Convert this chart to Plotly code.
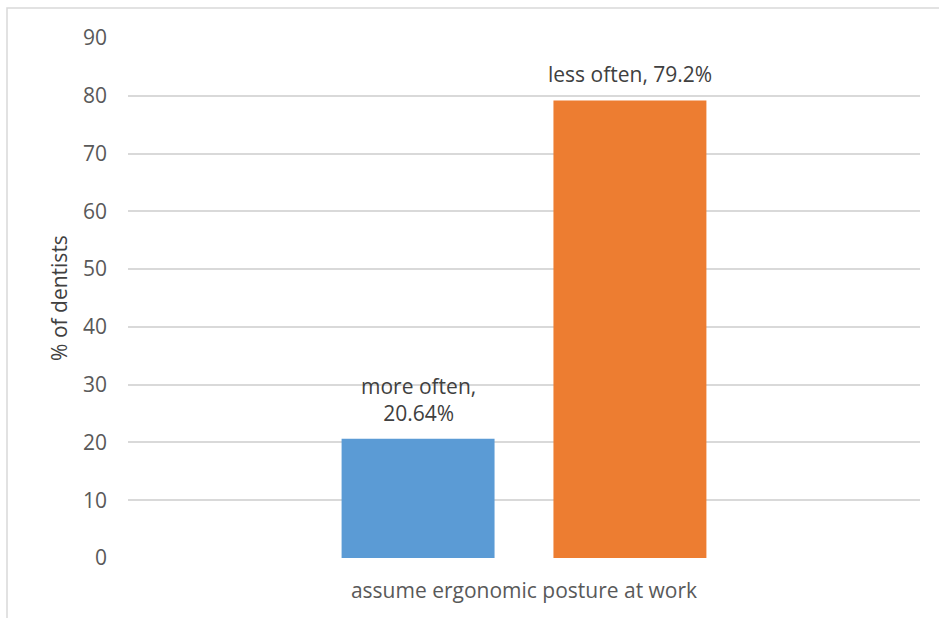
import plotly.graph_objects as go

# Survey data
category = ["assume ergonomic posture at work"]
series_names = ["more often", "less often"]
series_values = [20.64, 79.2]
series_labels = ["more often,<br>20.64%", "less often, 79.2%"]
series_colors = ["#5B9BD5", "#ED7D31"]
y_ticks = [0, 10, 20, 30, 40, 50, 60, 70, 80, 90]

W, H = 939, 618
margin = dict(l=128, r=19, t=38, b=60)
plot_w = W - margin["l"] - margin["r"]
plot_h = H - margin["t"] - margin["b"]
bargap = 0.465
bargroupgap = 0.278
slot = plot_w * (1 - bargap) / 2

FONT = "Open Sans"
SIZE = 21
TEXT = "#404040"
TICK = "#595959"
GRID = "#d9d9d9"

fig = go.Figure()
for name, val, color in zip(series_names, series_values, series_colors):
    fig.add_trace(go.Bar(x=category, y=[val], name=name, marker_color=color,
                         marker_line_width=0, showlegend=False))

# value labels above each bar
for i, (val, lab) in enumerate(zip(series_values, series_labels)):
    fig.add_annotation(x=category[0], y=val, text=lab, showarrow=False,
                       xref="x", yref="y", yanchor="bottom",
                       xshift=(i - 0.5) * slot, yshift=10,
                       font=dict(family=FONT, size=SIZE, color=TEXT))

# chart-area border
fig.add_shape(type="rect", xref="paper", yref="paper",
              x0=(7 - margin["l"]) / plot_w, x1=1.2,
              y0=-0.3, y1=(plot_h + margin["t"] - 8) / plot_h,
              line=dict(color=GRID, width=1.5), layer="below")

fig.update_layout(
    width=W, height=H, margin=margin,
    paper_bgcolor="white", plot_bgcolor="white",
    barmode="group", bargap=bargap, bargroupgap=bargroupgap,
    font=dict(family=FONT, color=TICK),
    xaxis=dict(showgrid=False, showline=False, zeroline=False, ticks="",
               tickfont=dict(family=FONT, size=SIZE, color=TICK),
               ticklabelstandoff=18),
    yaxis=dict(range=[0, 90], tickvals=y_ticks, showgrid=True, gridcolor=GRID,
               gridwidth=1.5, zeroline=False, showline=False, ticks="",
               tickfont=dict(family=FONT, size=SIZE, color=TICK),
               ticklabelstandoff=20,
               title=dict(text="% of dentists", standoff=9,
                          font=dict(family=FONT, size=SIZE, color=TEXT))),
)

fig.write_html("out.html")
